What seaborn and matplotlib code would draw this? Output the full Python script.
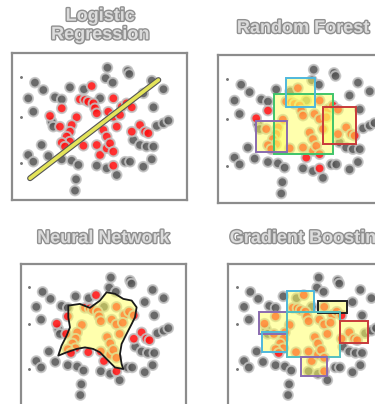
import numpy as np
import pandas as pd
import matplotlib
matplotlib.use('Agg')
import matplotlib.pyplot as plt
import matplotlib.patheffects as pe
from matplotlib.patches import Rectangle, Polygon
import seaborn as sns

# shared toy data set (same points in every panel)
gray_x = [5.47, 6.63, 6.72, 5.37, 5.77, 1.33, 1.81, 3.33, 4.13, 8.67, 8.0, 7.52, 0.95, 2.48,
          2.86, 5.05, 8.1, 1.24, 2.29, 2.38, 8.29, 8.67, 8.95, 6.95, 7.33, 7.71, 8.1, 1.71,
          0.95, 1.24, 2.1, 2.86, 3.43, 3.81, 4.86, 5.43, 6.0, 6.48, 6.76, 8.0, 7.52, 3.68, 3.62]
gray_y = [9.02, 8.8, 8.59, 8.3, 8.0, 8.0, 7.5, 7.68, 7.55, 7.55, 8.14, 7.27, 6.93, 7.0,
          6.86, 6.93, 6.32, 6.02, 5.34, 5.0, 5.05, 5.23, 5.41, 4.09, 3.75, 3.64, 3.64, 3.75,
          3.07, 2.61, 3.0, 2.77, 2.68, 2.39, 2.34, 2.16, 1.7, 2.61, 2.61, 2.77, 2.27, 1.41, 0.64]
red_x = [4.57, 3.9, 4.19, 4.38, 4.67, 4.76, 4.86, 5.81, 2.86, 5.52, 5.81, 6.29, 6.57, 6.86,
         6.19, 2.19, 3.71, 3.43, 3.33, 3.14, 3.33, 2.86, 3.05, 2.76, 5.24, 5.43, 6.0, 6.86,
         7.33, 7.62, 7.81, 4.1, 4.86, 5.05, 5.43, 5.62, 5.81, 5.81]
red_y = [7.77, 6.86, 6.82, 6.7, 6.59, 6.25, 5.91, 6.93, 6.25, 6.02, 5.68, 6.36, 6.59, 6.32,
         5.8, 5.73, 5.64, 5.11, 4.66, 4.32, 3.98, 3.91, 3.64, 5.0, 4.77, 4.32, 5.0, 4.66,
         5.11, 4.66, 4.55, 3.7, 3.75, 3.07, 3.52, 3.86, 3.3, 2.34]
guide_y = [8.36, 5.68, 2.5]

titles = ['Logistic\nRegression', 'Random Forest', 'Neural Network', 'Gradient Boosting']

# logistic regression boundary
lr_x = [1.05, 8.38]
lr_y = [1.48, 8.18]

# random forest leaves: x0, x1, y0, y1, colour
rf_boxes = [(3.2, 6.6, 3.3, 7.36, '#3fc46a'),
            (3.89, 5.54, 6.49, 8.45, '#4fb8dc'),
            (2.17, 3.94, 3.45, 5.54, '#8a6bb0'),
            (6.0, 7.89, 3.99, 6.49, '#c83a3a')]

# neural network decision region
nn_x = [2.89, 3.59, 4.2, 4.81, 5.21, 5.72, 6.22, 6.73, 7.03, 6.93, 6.73, 6.42, 6.12, 6.02,
        6.12, 6.22, 5.72, 5.21, 4.81, 4.4, 3.9, 3.39, 2.79, 2.28, 2.48, 2.79, 2.99, 2.89]
nn_y = [7.02, 7.14, 6.86, 7.38, 7.97, 7.86, 7.5, 7.38, 6.9, 6.19, 5.71, 5.0, 4.29, 3.57,
        2.86, 2.5, 2.61, 3.21, 3.69, 3.93, 4.04, 3.93, 3.69, 3.45, 4.16, 4.88, 5.47, 6.19]

# gradient boosting leaves
gb_boxes = [(3.58, 5.19, 6.54, 8.04, '#4fb8dc'),
            (5.45, 7.18, 6.47, 7.38, '#222222'),
            (1.88, 3.58, 5.0, 6.54, '#8a6bb0'),
            (2.02, 3.58, 3.69, 5.11, '#4fb8dc'),
            (3.58, 6.77, 3.38, 6.54, '#55bfc0'),
            (6.77, 8.48, 4.33, 5.9, '#c83a3a'),
            (4.39, 5.96, 2.02, 3.38, '#8a6bb0')]

pts = pd.concat([pd.DataFrame({'x': gray_x, 'y': gray_y, 'cls': 'gray'}),
                 pd.DataFrame({'x': red_x, 'y': red_y, 'cls': 'red'})])

sns.set_style('white')
fig = plt.figure(figsize=(3.75, 4.04), dpi=100)

positions = [[0.031, 0.505, 0.467, 0.363],
             [0.581, 0.4975, 0.467, 0.366],
             [0.055, -0.005, 0.44, 0.352],
             [0.609, -0.005, 0.44, 0.352]]
title_pos = [(0.267, 0.937), (0.808, 0.93), (0.275, 0.41), (0.822, 0.41)]

fill_col = '#ffff5c'

for i, pos in enumerate(positions):
    ax = fig.add_axes(pos)
    sns.scatterplot(data=pts, x='x', y='y', hue='cls',
                    palette={'gray': '#555555', 'red': '#ff1212'},
                    s=48, edgecolor='#c2c2c2', linewidth=1.4, alpha=0.88,
                    legend=False, ax=ax, zorder=2)
    ax.scatter([0.51] * len(guide_y), guide_y, s=1.2, color='#777777', zorder=2)
    ax.set_xlim(0, 10)
    ax.set_ylim(0, 10) if i < 2 else ax.set_ylim(-0.14, 10)
    ax.set_xticks([])
    ax.set_yticks([])
    ax.set_xlabel('')
    ax.set_ylabel('')
    for sp in ax.spines.values():
        sp.set_color('#8c8c8c')
        sp.set_linewidth(1.6)

    if i == 0:
        ax.plot(lr_x, lr_y, color='#e4e45a', lw=2.6, solid_capstyle='round', zorder=4,
                path_effects=[pe.Stroke(linewidth=4.2, foreground='#555555'), pe.Normal()])
    elif i in (1, 3):
        boxes = rf_boxes if i == 1 else gb_boxes
        for x0, x1, y0, y1, c in boxes:
            ax.add_patch(Rectangle((x0, y0), x1 - x0, y1 - y0, facecolor=fill_col,
                                   alpha=0.5, edgecolor='none', zorder=3))
        for x0, x1, y0, y1, c in boxes:
            ax.add_patch(Rectangle((x0, y0), x1 - x0, y1 - y0, facecolor='none',
                                   edgecolor=c, lw=1.4, zorder=4))
    else:
        verts = np.column_stack([nn_x, nn_y])
        ax.add_patch(Polygon(verts, closed=True, facecolor=fill_col, alpha=0.5,
                             edgecolor='none', zorder=3))
        ax.add_patch(Polygon(verts, closed=True, facecolor='none', edgecolor='#1a1a1a',
                             lw=1.3, joinstyle='round', zorder=4))

    fig.text(title_pos[i][0], title_pos[i][1], titles[i], ha='center', va='center',
             fontsize=13, fontweight='bold', family=['Liberation Sans', 'DejaVu Sans'],
             color='#dcdcdc', linespacing=1.12,
             path_effects=[pe.withStroke(linewidth=2.0, foreground='#909090')])

fig.savefig('out.png', dpi=100)
